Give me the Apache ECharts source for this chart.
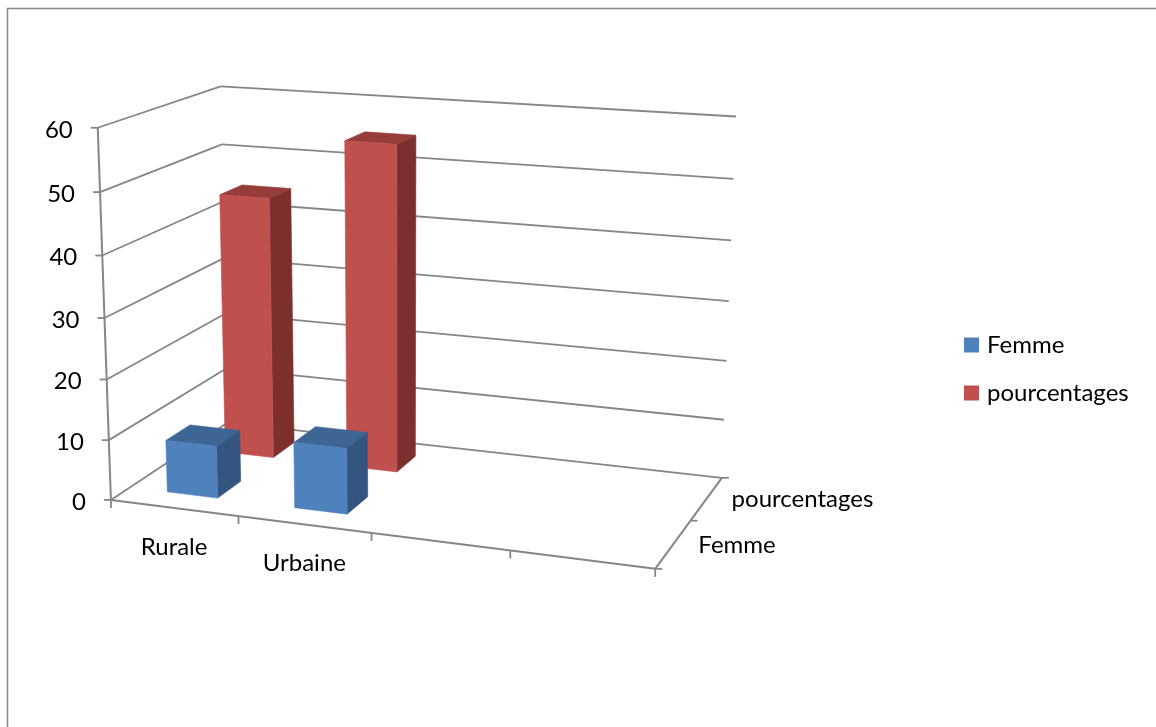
<!DOCTYPE html>
<html>
<head>
<meta charset="utf-8">
<script src="https://cdn.jsdelivr.net/npm/echarts@6/dist/echarts.min.js"></script>
<style>
  html, body { margin: 0; padding: 0; background: #ffffff; }
  #chart { width: 1156px; height: 727px; }
</style>
</head>
<body>
<div id="chart"></div>
<script>
// ---- data ----
const CATEGORIES = ['Rurale', 'Urbaine', '', ''];
const SERIES_NAMES = ['Femme', 'pourcentages'];
const FEMME = [8.7, 10.8, null, null];
const POURCENTAGES = [44.6, 55.0, null, null];
const SERIES_VALUES = [FEMME, POURCENTAGES];
const Y_TICKS = [0, 10, 20, 30, 40, 50, 60];
const Y_MIN = 0, Y_MAX = 60, Y_STEP = 10;

// ---- style ----
const FRONT_COLORS = ['#4F81BD', '#C0504D'];
const TOP_COLORS = ['#3D6694', '#963C3A'];
const SIDE_COLORS = ['#34557F', '#7D2F2E'];
const GRID_COLOR = '#868686';
const GRID_WIDTH = 1.8;
const FONT = '24px Lato';
const BAR_FRACTION = 0.4;   // gap width 150% in both directions

// Camera calibration for the 3-D box: [slot 0..4, value 0..60, depth 0..1] -> screen px
const VIEW_ANCHORS = [
  [0, 0, 0, 111, 500], [0, 10, 0, 109, 440], [0, 20, 0, 107, 379], [0, 30, 0, 105, 318],
  [0, 40, 0, 102, 255], [0, 50, 0, 100, 192.5], [0, 60, 0, 97.7, 128],
  [1, 0, 0, 238, 516.5], [2, 0, 0, 371, 533.5], [3, 0, 0, 510, 551], [4, 0, 0, 655, 568],
  [4, 0, 0.5, 692, 520], [4, 0, 1, 721, 477],
  [4, 10, 1, 724, 420], [4, 20, 1, 727, 362], [4, 30, 1, 729, 301], [4, 40, 1, 731, 241],
  [4, 50, 1, 733, 179], [4, 60, 1, 736, 116],
  [0, 60, 1, 221, 86], [0, 50, 1, 221.7, 144.5]
];

// Fit a pinhole projection (3x4 matrix, DLT least squares) to the calibration points.
function fitProjection(anchors) {
  const S = 500, CX = 500, CY = 400;
  const rows = [], rhs = [];
  anchors.forEach(function (a) {
    const x = a[0] / 4, y = a[1] / 60, z = a[2];
    const u = (a[3] - CX) / S, v = (a[4] - CY) / S;
    rows.push([x, y, z, 1, 0, 0, 0, 0, -u * x, -u * y, -u * z]); rhs.push(u);
    rows.push([0, 0, 0, 0, x, y, z, 1, -v * x, -v * y, -v * z]); rhs.push(v);
  });
  const n = 11;
  const M = [];
  for (let i = 0; i < n; i++) M.push(new Array(n + 1).fill(0));
  rows.forEach(function (r, k) {
    for (let i = 0; i < n; i++) {
      for (let j = 0; j < n; j++) M[i][j] += r[i] * r[j];
      M[i][n] += r[i] * rhs[k];
    }
  });
  for (let c = 0; c < n; c++) {
    let piv = c;
    for (let r = c + 1; r < n; r++) if (Math.abs(M[r][c]) > Math.abs(M[piv][c])) piv = r;
    const tmp = M[c]; M[c] = M[piv]; M[piv] = tmp;
    for (let r = 0; r < n; r++) {
      if (r === c) continue;
      const f = M[r][c] / M[c][c];
      for (let k = c; k <= n; k++) M[r][k] -= f * M[c][k];
    }
  }
  const p = M.map(function (row, i) { return row[n] / row[i]; });
  return function (x, y, z) {
    const w = p[8] * x + p[9] * y + p[10] * z + 1;
    return [CX + S * (p[0] * x + p[1] * y + p[2] * z + p[3]) / w,
            CY + S * (p[4] * x + p[5] * y + p[6] * z + p[7]) / w];
  };
}
const project = fitProjection(VIEW_ANCHORS);

// Map a pixel from the (hidden) cartesian plane to normalized box coordinates.
function planeToWorld(params, pt) {
  const cs = params.coordSys;
  return [(pt[0] - cs.x) / cs.width, (cs.y + cs.height - pt[1]) / cs.height];
}

function line(a, b, w) {
  return { type: 'line', shape: { x1: a[0], y1: a[1], x2: b[0], y2: b[1] },
           style: { stroke: GRID_COLOR, lineWidth: w || GRID_WIDTH } };
}
function label(text, x, y, align) {
  return { type: 'text', style: { text: text, x: x, y: y, font: FONT, fill: '#000000',
           align: align, verticalAlign: 'middle' } };
}

// Value gridlines on the back and side walls, value axis ticks and labels
function renderValueGrid(params, api) {
  const v = api.value(1);
  const y = planeToWorld(params, api.coord([0, v]))[1];
  const a = project(0, y, 0), b = project(0, y, 1), c = project(1, y, 1);
  const kids = [line(a, b), line(b, c), line(a, [a[0] - 7, a[1]]),
                label(String(v), a[0] - 25, a[1] + 2, 'right')];
  if (params.dataIndex === 0) {
    const y1 = planeToWorld(params, api.coord([0, Y_MAX]))[1];
    kids.push(line(project(0, y, 0), project(0, y1, 0), 2));
  }
  return { type: 'group', children: kids };
}

// Category axis along the front edge of the floor
function renderCategoryAxis(params, api) {
  const i = api.value(0);
  const c = planeToWorld(params, api.coord([i, 0]));
  const half = api.size([1, 0])[0] / params.coordSys.width / 2;
  const kids = [];
  const left = project(c[0] - half, c[1], 0);
  kids.push(line(left, [left[0], left[1] + 8]));
  if (i === CATEGORIES.length - 1) {
    const right = project(c[0] + half, c[1], 0);
    kids.push(line(right, [right[0], right[1] + 8]));
  }
  if (i === 0) kids.push(line(project(0, c[1], 0), project(1, c[1], 0), 2));
  const mid = project(c[0], c[1], 0);
  kids.push(label(CATEGORIES[i], mid[0], mid[1] + 39, 'center'));
  return { type: 'group', children: kids };
}

// Series (depth) axis along the right edge of the floor
function renderDepthAxis(params, api) {
  const s = api.value(0);
  const n = SERIES_NAMES.length;
  const y0 = planeToWorld(params, api.coord([0, Y_MIN]))[1];
  const kids = [];
  const front = project(1, y0, s / n);
  kids.push(line(front, [front[0] + 7, front[1]]));
  if (s === n - 1) {
    const back = project(1, y0, 1);
    kids.push(line(back, [back[0] + 7, back[1]]));
  }
  if (s === 0) kids.push(line(project(1, y0, 0), project(1, y0, 1), 2));
  const mid = project(1, y0, (s + 0.5) / n);
  kids.push(label(SERIES_NAMES[s], mid[0] + 25, mid[1] + 1, 'left'));
  return { type: 'group', children: kids };
}

// 3-D column: right side, top and front faces
function barRenderer(s) {
  return function (params, api) {
    const cat = api.value(0), val = api.value(1);
    const base = planeToWorld(params, api.coord([cat, Y_MIN]));
    const top = planeToWorld(params, api.coord([cat, val]));
    const half = api.size([1, 0])[0] / params.coordSys.width * BAR_FRACTION / 2;
    const x0 = base[0] - half, x1 = base[0] + half;
    const n = SERIES_NAMES.length;
    const zc = (s + 0.5) / n, zh = BAR_FRACTION / n / 2;
    const z0 = zc - zh, z1 = zc + zh;
    const y0 = base[1], y1 = top[1];
    function face(pts, color) {
      return { type: 'polygon', shape: { points: pts.map(function (p) { return project(p[0], p[1], p[2]); }) },
               style: { fill: color, stroke: color, lineWidth: 0.6 } };
    }
    return { type: 'group', children: [
      face([[x1, y0, z0], [x1, y0, z1], [x1, y1, z1], [x1, y1, z0]], SIDE_COLORS[s]),
      face([[x0, y1, z0], [x1, y1, z0], [x1, y1, z1], [x0, y1, z1]], TOP_COLORS[s]),
      face([[x0, y0, z0], [x1, y0, z0], [x1, y1, z0], [x0, y1, z0]], FRONT_COLORS[s])
    ] };
  };
}

function barData(values) {
  const out = [];
  values.forEach(function (v, i) { if (v != null) out.push([i, v]); });
  return out;
}

const chart = echarts.init(document.getElementById('chart'), null, { renderer: 'canvas' });

const barSeries = SERIES_NAMES.map(function (name, s) {
  return {
    type: 'custom', name: name, coordinateSystem: 'cartesian2d',
    renderItem: barRenderer(s), data: barData(SERIES_VALUES[s]),
    itemStyle: { color: FRONT_COLORS[s] },
    z: 10 - s,
    silent: true
  };
}).reverse();   // back row painted first

chart.setOption({
  animation: false,
  backgroundColor: '#ffffff',
  grid: { left: 0, right: 0, top: 0, bottom: 0 },
  xAxis: { type: 'category', data: CATEGORIES, show: false },
  yAxis: { type: 'value', min: Y_MIN, max: Y_MAX, interval: Y_STEP, show: false },
  legend: {
    data: SERIES_NAMES, orient: 'vertical', left: 964, top: 333, padding: 0,
    itemWidth: 15, itemHeight: 15, itemGap: 24, icon: 'rect',
    textStyle: { fontFamily: 'Lato', fontSize: 24, color: '#000000', padding: [0, 0, 0, 3] },
    selectedMode: false
  },
  graphic: [{
    type: 'rect', silent: true, z: 0,
    shape: { x: 7.5, y: 8.5, width: 1200, height: 800 },
    style: { fill: 'none', stroke: '#878787', lineWidth: 1.5 }
  }],
  series: [
    { type: 'custom', name: 'grid', coordinateSystem: 'cartesian2d', silent: true, z: 2,
      renderItem: renderValueGrid, data: Y_TICKS.map(function (v) { return [0, v]; }) },
    { type: 'custom', name: 'categoryAxis', coordinateSystem: 'cartesian2d', silent: true, z: 2,
      renderItem: renderCategoryAxis, data: CATEGORIES.map(function (c, i) { return [i, 0]; }) },
    { type: 'custom', name: 'depthAxis', coordinateSystem: 'cartesian2d', silent: true, z: 2,
      renderItem: renderDepthAxis, data: SERIES_NAMES.map(function (n, i) { return [i, 0]; }) }
  ].concat(barSeries)
});
</script>
</body>
</html>
